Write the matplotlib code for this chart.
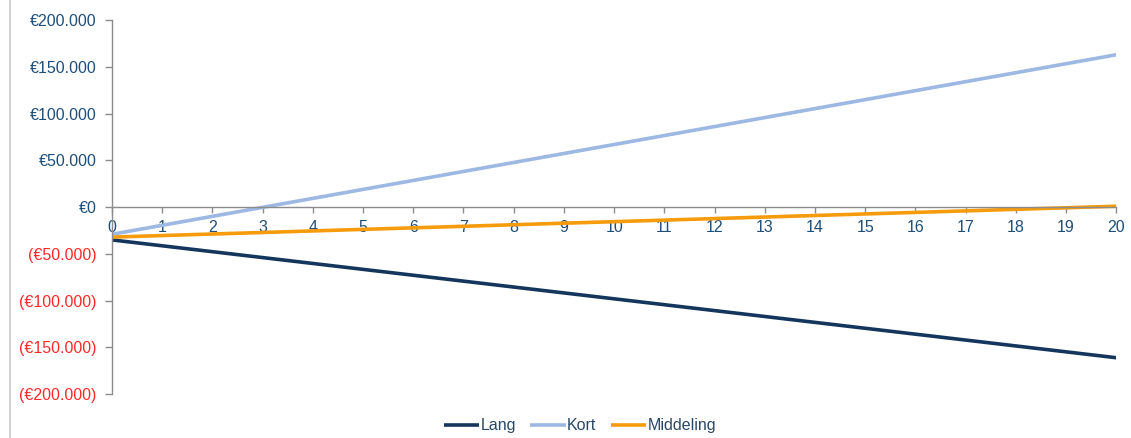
import matplotlib
matplotlib.use('agg')
import matplotlib.pyplot as plt
from matplotlib.lines import Line2D
import matplotlib.ticker as mticker

plt.rcParams['font.family'] = ['Liberation Sans', 'DejaVu Sans']

jaren = list(range(0, 21))
lang = [-35000, -41300, -47600, -53900, -60200, -66500, -72800, -79100, -85400, -91700,
        -98000, -104300, -110600, -116900, -123200, -129500, -135800, -142100, -148400,
        -154700, -161000]
kort = [-29000, -19400, -9800, -200, 9400, 19000, 28600, 38200, 47800, 57400,
        67000, 76600, 86200, 95800, 105400, 115000, 124600, 134200, 143800,
        153400, 163000]
middeling = [-32000, -30350, -28700, -27050, -25400, -23750, -22100, -20450, -18800,
             -17150, -15500, -13850, -12200, -10550, -8900, -7250, -5600, -3950,
             -2300, -650, 1000]
y_ticks = [200000, 150000, 100000, 50000, 0, -50000, -100000, -150000, -200000]

blauw = '#1f4e79'
rood = '#ff2a2a'
fs = 11.5

fig = plt.figure(figsize=(11.31, 4.38), dpi=100)
ax = fig.add_axes([0.099, 0.100, 0.888, 0.854])

ax.plot(jaren, lang, color='#14365c', lw=2.6, label='Lang', solid_capstyle='butt')
ax.plot(jaren, kort, color='#9db8e2', lw=2.6, label='Kort', solid_capstyle='butt')
ax.plot(jaren, middeling, color='#f59b0c', lw=2.6, label='Middeling', solid_capstyle='butt')

ax.set_xlim(0, 20)
ax.set_ylim(-200000, 200000)
ax.set_xticks(jaren)
ax.set_yticks(y_ticks)

def euro(v, pos):
    s = '€{:,.0f}'.format(abs(v)).replace(',', '.')
    return '({})'.format(s) if v < 0 else s

ax.yaxis.set_major_formatter(mticker.FuncFormatter(euro))
for lbl, v in zip(ax.get_yticklabels(), y_ticks):
    lbl.set_color(rood if v < 0 else blauw)

for side in ['top', 'right']:
    ax.spines[side].set_visible(False)
ax.spines['bottom'].set_position(('data', 0))
for side in ['bottom', 'left']:
    ax.spines[side].set_color('#8c8c8c')
    ax.spines[side].set_linewidth(1.0)

ax.tick_params(axis='y', direction='out', length=5, width=1.0, color='#8c8c8c',
               labelsize=fs, pad=6)
ax.tick_params(axis='x', direction='out', length=4, width=1.0, color='#8c8c8c',
               labelsize=fs, labelcolor=blauw, pad=5)

leg = ax.legend(loc='center', bbox_to_anchor=(0.466, -0.085), ncol=3, frameon=False,
                fontsize=fs, handlelength=2.2, handletextpad=0.1, columnspacing=0.9)
for t in leg.get_texts():
    t.set_color('#2a4766')

# grijze rand links
fig.add_artist(Line2D([0.0092, 0.0092], [0, 1], transform=fig.transFigure,
                      color='#c8c8c8', lw=1.2))

fig.savefig('out.png', dpi=100)
